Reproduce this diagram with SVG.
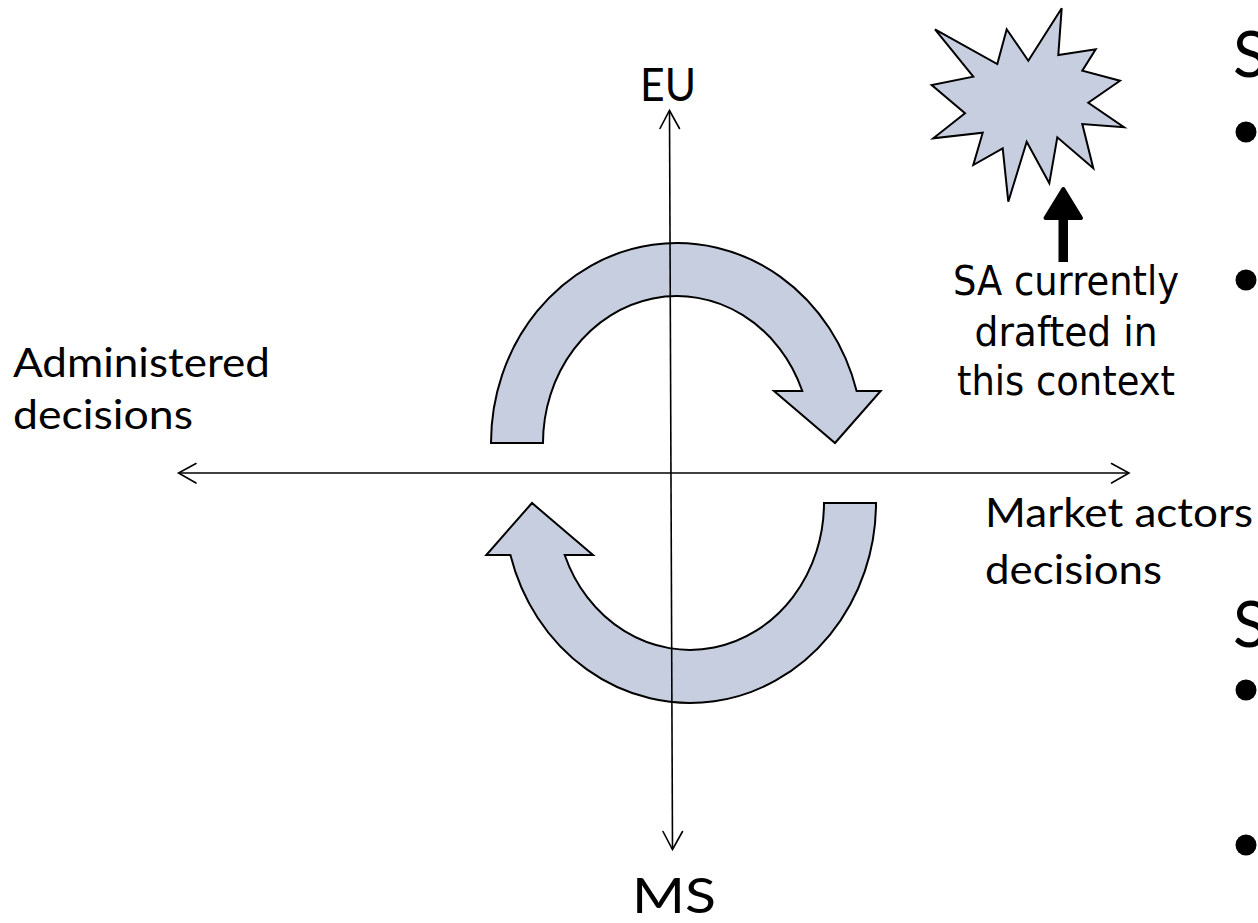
<svg xmlns="http://www.w3.org/2000/svg" width="1258" height="923" viewBox="0 0 1258 923">
  <style>
    .label { font-family: Lato, "Open Sans", "Liberation Sans", sans-serif; fill: #000; }
    .note { font-family: "DejaVu Sans", Verdana, sans-serif; fill: #000; }
    .turn { fill: #c6cee0; stroke: #000; stroke-width: 2; stroke-linejoin: miter; }
    .axis { stroke: #000; stroke-width: 1.6; fill: none; }
    .head { stroke: #000; stroke-width: 1.6; fill: none; stroke-linecap: round; stroke-linejoin: miter; }
  </style>
  <defs>
    <!-- clockwise half-ring arrow: outer/inner elliptical arcs around (677,443) -->
    <path id="halfRing" d="M 491 443 A 186 200 0 0 1 856.6 391 L 880.7 391 L 835 443 L 774 391 L 802.3 391 A 134 147 0 0 0 543 443 Z"/>
  </defs>

  <rect x="0" y="0" width="1258" height="923" fill="#fff"/>

  <!-- cycle arrows -->
  <g id="cycle-top">
    <use href="#halfRing" class="turn"/>
  </g>
  <g id="cycle-bottom">
    <use href="#halfRing" class="turn" transform="rotate(180 683.5 473)"/>
  </g>

  <!-- axes -->
  <g id="connectors">
    <line class="axis" x1="669.5" y1="111" x2="672.5" y2="849"/>
    <polyline class="head" points="660,128.5 669.5,110.5 679.5,128.5"/>
    <polyline class="head" points="663,831.5 672.5,849.5 682.5,831.5"/>
    <line class="axis" x1="179" y1="473" x2="1128.5" y2="473"/>
    <polyline class="head" points="196,463.5 178.5,473 196,483"/>
    <polyline class="head" points="1111.5,463.5 1129,473 1111.5,483"/>
  </g>

  <!-- axis labels -->
  <g id="label-eu">
    <text class="label" x="640" y="100.5" font-size="46" textLength="56" lengthAdjust="spacingAndGlyphs">EU</text>
  </g>
  <g id="label-ms">
    <text class="label" x="632" y="913" font-size="48" textLength="84" lengthAdjust="spacingAndGlyphs">MS</text>
  </g>
  <g id="label-administered">
    <text class="label" x="13" y="377" font-size="41" textLength="257" lengthAdjust="spacingAndGlyphs">Administered</text>
    <text class="label" x="13" y="429" font-size="41" textLength="180" lengthAdjust="spacingAndGlyphs">decisions</text>
  </g>
  <g id="label-market">
    <text class="label" x="985" y="527" font-size="41" textLength="268" lengthAdjust="spacingAndGlyphs">Market actors</text>
    <text class="label" x="985" y="584" font-size="41" textLength="177" lengthAdjust="spacingAndGlyphs">decisions</text>
  </g>

  <!-- explosion star -->
  <g id="star">
    <polygon class="turn" stroke-width="1.8" points="935,29.3 997.3,64 1006.7,29.3 1028.3,60.7 1061.7,8.3 1058.3,55 1095.7,49.3 1082.3,70.7 1120,80.7 1088.3,102.7 1124,127.3 1082.3,124 1093.3,168.3 1057.3,137.3 1049.3,183.3 1026.7,141.7 1008.3,201.7 1002.7,148.3 973.3,165 982.7,132.7 933.3,138.3 965,113.3 931.7,85 973.3,76.7"/>
  </g>

  <!-- pointer from note to star -->
  <g id="pointer">
    <rect x="1058.5" y="212" width="9.5" height="50" fill="#000"/>
    <polygon points="1063.3,189 1081,218 1045.5,218" fill="#000" stroke="#000" stroke-width="4" stroke-linejoin="round"/>
  </g>

  <g id="note">
    <text class="note" x="1066" y="295" font-size="40" text-anchor="middle" textLength="226" lengthAdjust="spacingAndGlyphs">SA currently</text>
    <text class="note" x="1066" y="346" font-size="40" text-anchor="middle" textLength="183" lengthAdjust="spacingAndGlyphs">drafted in</text>
    <text class="note" x="1066" y="395" font-size="40" text-anchor="middle" textLength="218" lengthAdjust="spacingAndGlyphs">this context</text>
  </g>

  <!-- right-hand list, clipped by the page edge -->
  <g id="list-top">
    <text class="label" x="1233" y="77" font-size="63">S</text>
    <circle cx="1246" cy="132" r="10.5" fill="#000"/>
    <circle cx="1246" cy="280" r="10.5" fill="#000"/>
  </g>
  <g id="list-bottom">
    <text class="label" x="1233" y="647" font-size="63">S</text>
    <circle cx="1246" cy="690" r="10.5" fill="#000"/>
    <circle cx="1246" cy="845" r="10.5" fill="#000"/>
  </g>
</svg>
